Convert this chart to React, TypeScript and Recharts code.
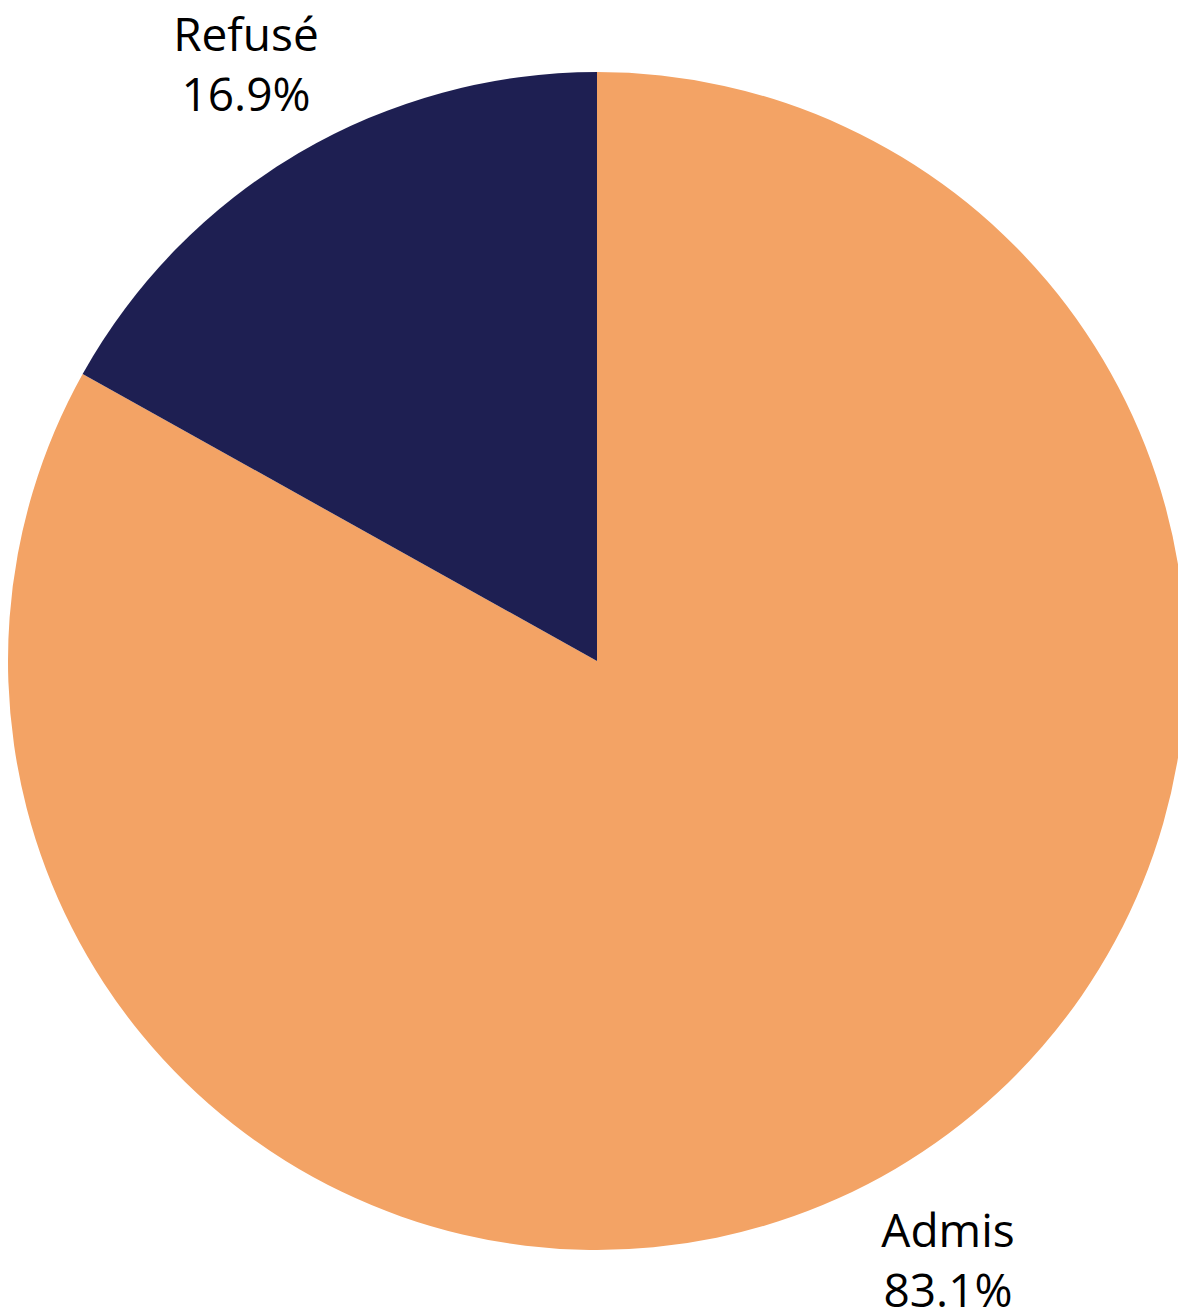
import { PieChart, Pie, Cell } from "recharts";

const categories = ["Admis", "Refusé"];
const shares = [83.1, 16.9];
const colors = ["#F3A365", "#1E1F52"];

const data = categories.map((name, i) => ({ name, value: shares[i] }));

const RADIAN = Math.PI / 180;

const renderLabel = (props: any) => {
  const { cx, cy, midAngle, outerRadius, name, value } = props;
  const r = outerRadius * 1.177;
  const x = cx + r * Math.cos(-midAngle * RADIAN);
  const y = cy + r * Math.sin(-midAngle * RADIAN);
  return (
    <text
      x={x}
      y={y}
      textAnchor="middle"
      fill="#000"
      fontSize={46}
      fontFamily="'Open Sans', 'Noto Sans', sans-serif"
    >
      <tspan x={x} dy={-12}>
        {name}
      </tspan>
      <tspan x={x} dy={60}>
        {value.toFixed(1)}%
      </tspan>
    </text>
  );
};

export default function App() {
  return (
    <div style={{ position: "absolute", left: 0, top: 0, width: 1178, height: 1309, background: "#fff" }}>
      <PieChart width={1178} height={1309} margin={{ top: 0, right: 0, bottom: 0, left: 0 }}>
        <Pie
          data={data}
          dataKey="value"
          nameKey="name"
          cx={597}
          cy={661}
          outerRadius={589}
          startAngle={90}
          endAngle={-270}
          stroke="none"
          label={renderLabel}
          labelLine={false}
          isAnimationActive={false}
        >
          {data.map((d, i) => (
            <Cell key={d.name} fill={colors[i]} />
          ))}
        </Pie>
      </PieChart>
    </div>
  );
}
